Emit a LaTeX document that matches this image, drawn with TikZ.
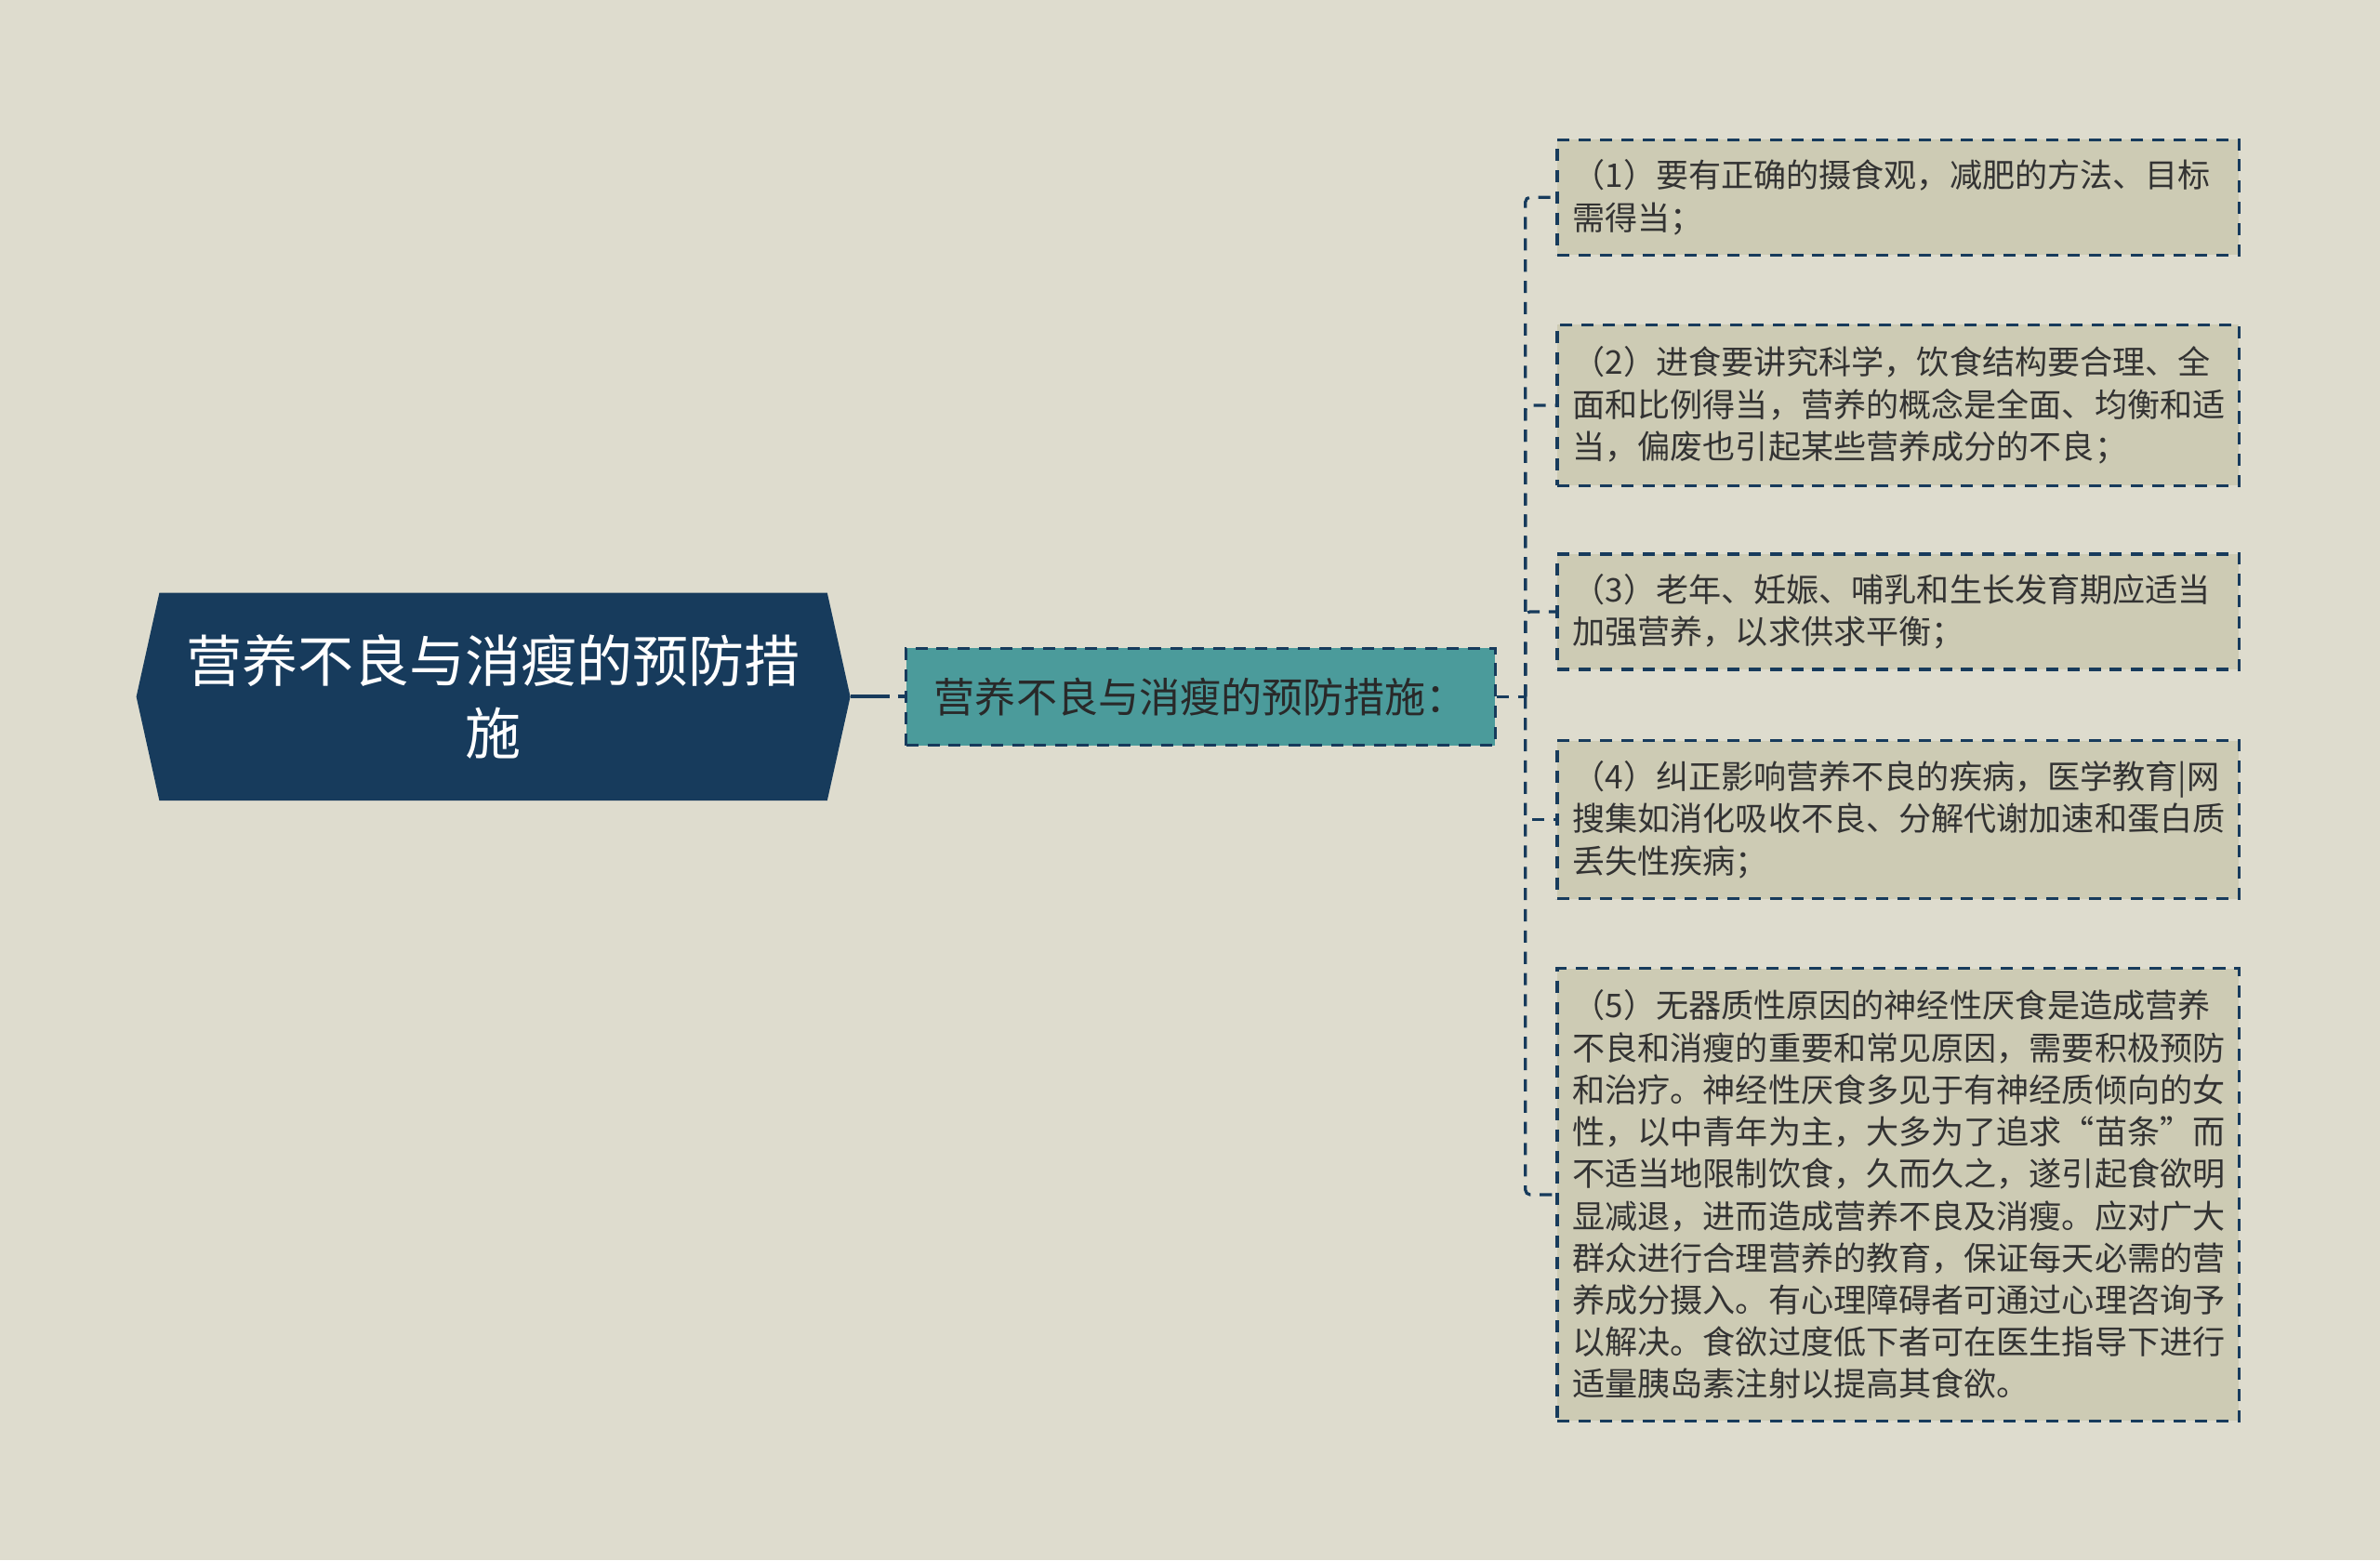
\documentclass[tikz,border=0pt]{standalone}
\usepackage{fontspec}
\newfontfamily\cjk{Noto Sans CJK SC}
\usepackage{xcolor}
\usepackage{tikz}
\usetikzlibrary{calc,shapes.symbols}
\definecolor{paper}{HTML}{DEDCCE}
\definecolor{navy}{HTML}{173B5C}
\definecolor{seagreen}{HTML}{4B9B9B}
\definecolor{khaki}{HTML}{CDCBB4}
\definecolor{ink}{HTML}{333333}
\tikzstyle{centered} = [align=center, text centered]
\tikzstyle{dashline} = [draw=navy, line width=2pt, dash pattern=on 8pt off 6pt]
\tikzset{
  % edge styles
  link/.style={dashline, rounded corners=3pt},
  rootlink/.style={dashline, line width=2.5pt, dash pattern=on 26pt off 5pt},
  % node styles
  rootnode/.style={centered, shape=signal, signal to=west and east, signal pointer angle=155,
    fill=navy, text=white, text width=410pt, inner xsep=15pt, minimum height=137pt,
    font=\cjk\fontsize{36.8}{48}\selectfont},
  midnode/.style={centered, rectangle, fill=seagreen, dashline, text=ink!80!black,
    minimum width=388pt, minimum height=64pt, font=\cjk\fontsize{27}{32}\selectfont},
  leafnode/.style={align=left, rectangle, anchor=west, fill=khaki, dashline, text=ink,
    text width=429pt, inner xsep=10pt, font=\cjk\fontsize{21.5}{27.7}\selectfont},
}
\begin{document}
\begin{tikzpicture}[x=1pt, y=-1pt]
        \fill[paper] (0,0) rectangle (1568,1028);
        \useasboundingbox (0,0) rectangle (1568,1028);
        % Root
        \node(R0)[rootnode] at(325,459){营养不良与消瘦的预防措\\施};
        % 1st level
        \node(M1)[midnode] at(791,459){营养不良与消瘦的预防措施：};
        \coordinate(X1) at(1005,459);
        % 2nd level
        \node(L1)[leafnode,minimum height=76pt] at(1025,130){（1）要有正确的摄食观，减肥的方法、目标\\需得当；};
        \node(L2)[leafnode,minimum height=106pt] at(1025,267){（2）进食要讲究科学，饮食结构要合理、全\\面和比例得当，营养的概念是全面、均衡和适\\当，偏废也引起某些营养成分的不良；};
        \node(L3)[leafnode,minimum height=76pt] at(1025,403){（3）老年、妊娠、哺乳和生长发育期应适当\\加强营养，以求供求平衡；};
        \node(L4)[leafnode,minimum height=104pt] at(1025,540){（4）纠正影响营养不良的疾病，医学教育|网\\搜集如消化吸收不良、分解代谢加速和蛋白质\\丢失性疾病；};
        \node(L5)[leafnode,minimum height=298pt] at(1025,787){（5）无器质性原因的神经性厌食是造成营养\\不良和消瘦的重要和常见原因，需要积极预防\\和治疗。神经性厌食多见于有神经质倾向的女\\性，以中青年为主，大多为了追求“苗条”而\\不适当地限制饮食，久而久之，遂引起食欲明\\显减退，进而造成营养不良及消瘦。应对广大\\群众进行合理营养的教育，保证每天必需的营\\养成分摄入。有心理障碍者可通过心理咨询予\\以解决。食欲过度低下者可在医生指导下进行\\适量胰岛素注射以提高其食欲。};
        % connectors
        \draw[rootlink] (R0.east) -- (M1.west);
        \draw[link] (M1.east) -- (X1);
        \foreach \leaf in {L1,L2,L3,L4,L5}
            \draw[link] (X1) |- (\leaf.west);
\end{tikzpicture}
\end{document}
